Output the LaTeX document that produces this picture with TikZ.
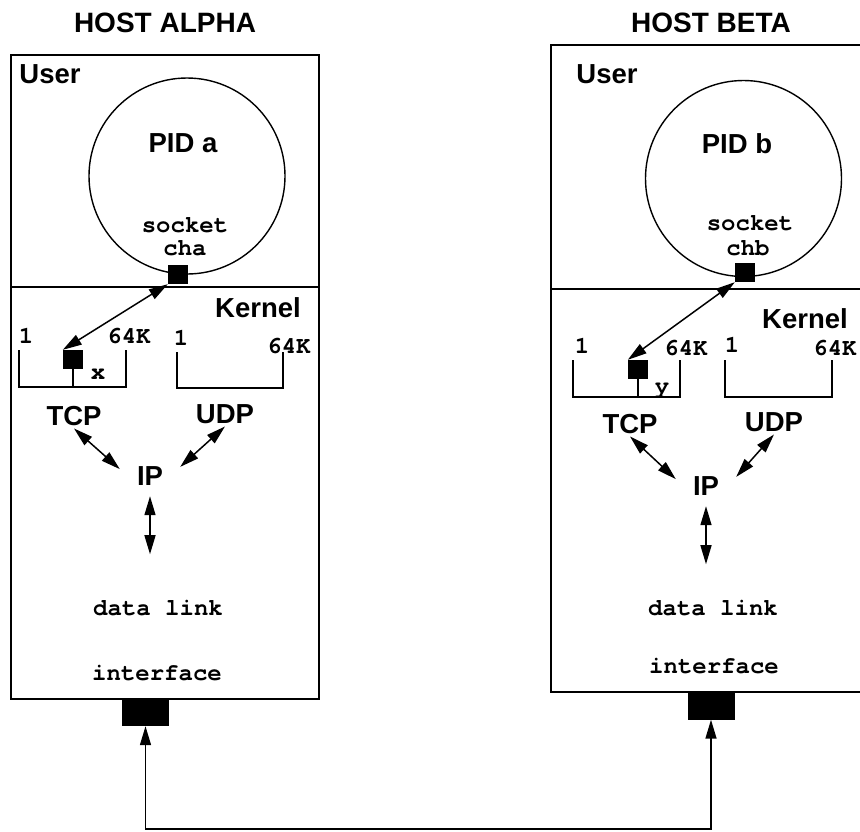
\documentclass[tikz,border=0pt]{standalone}
\usepackage{fontspec}
\setmainfont{Liberation Sans}
\setmonofont{TeX Gyre Cursor}
\usetikzlibrary{arrows.meta,calc,positioning}

\begin{document}
\begin{tikzpicture}[x=1pt,y=-1pt,
  big/.style={font=\bfseries\fontsize{27.5}{30}\selectfont, inner sep=0pt, anchor=base},
  title/.style={big, font=\bfseries\fontsize{28}{30}\selectfont},
  mono/.style={font=\ttfamily\bfseries\fontsize{24}{26}\selectfont, inner sep=0pt, anchor=base},
  port/.style={fill, inner sep=0pt, minimum width=20pt, minimum height=19pt},
  nic/.style={fill, inner sep=0pt, minimum width=47pt, minimum height=27pt},
  proc/.style={draw, circle, line width=1.4pt, minimum size=196pt, inner sep=0pt},
  wall/.style={line width=1.7pt},
  bar/.style={line width=1.6pt},
  link/.style={line width=1.5pt, {Triangle[length=19pt,width=11pt]}-{Triangle[length=19pt,width=11pt]}},
  ipbox/.style={big, inner xsep=17pt, inner ysep=11pt}]
\useasboundingbox (0,0) rectangle (860,831);

% host alpha
\node[title] (hostA) at (165,32) {HOST ALPHA};
\draw[wall] (11,55) rectangle (319,699);
\draw[wall] (11,287) -- (319,287);
\node[big] (userA) at (50,83) {User};
\node[proc] (pidA) at (187,176) {};
\node[big] (pidAtxt) at (183,152) {PID a};
\node[mono] (sockAtxt) at (185,232) {socket};
\node[mono] (chA) at (185,255) {cha};
\node[port] (sockA) at (178,274.5) {};
\node[big] (kernA) at (258,317) {Kernel};

\coordinate (tcpTrayA) at (19,387);
\draw[bar] (19,350) -- (tcpTrayA) -- (126,387) -- (126,350);
\draw[bar] (177,352) -- (177,388) -- (283,388) -- (283,352);
\node[port] (portA) at (73,359.5) {};
\draw[bar] (portA.south) -- (portA.south |- tcpTrayA);
\node[mono] (oneA) at (26,343) {1};
\node[mono] (maxA) at (129,343) {64K};
\node[mono] (oneUA) at (181,345) {1};
\node[mono] (maxUA) at (289,353) {64K};
\node[mono] (xA) at (98,379) {x};

\node[big, inner sep=3pt] (tcpA) at (74,425) {TCP};
\node[big, inner sep=3pt] (udpA) at (225,423) {UDP};
\node[ipbox] (ipA) at (150,485) {IP};
\coordinate (dlA) at ($(ipA.south)+(0,58)$);
\node[mono] (linkA) at (158,615) {data link};
\node[mono] (ifA) at (157,680) {interface};
\node[nic] (nicA) at (145.5,712.5) {};

\draw[link] (portA.north west) -- (sockA.south west);
\draw[link] (tcpA.south) -- (ipA.168);
\draw[link] (udpA.south) -- (ipA.16);
\draw[link] (ipA.south) -- (dlA);

% host beta
\node[title] (hostB) at (711,32) {HOST BETA};
\draw[wall] (551,45) rectangle (862,692);
\draw[wall] (551,289) -- (862,289);
\node[big] (userB) at (607,83) {User};
\node[proc] (pidB) at (743.5,178.5) {};
\node[big] (pidBtxt) at (737,153) {PID b};
\node[mono] (sockBtxt) at (750,230) {socket};
\node[mono] (chB) at (748,255) {chb};
\node[port] (sockB) at (745,272.5) {};
\node[big] (kernB) at (805,328) {Kernel};

\coordinate (tcpTrayB) at (573,397);
\draw[bar] (573,360) -- (tcpTrayB) -- (680,397) -- (680,360);
\draw[bar] (725,360) -- (725,397) -- (832,397) -- (832,360);
\node[port] (portB) at (638,369.5) {};
\draw[bar] (portB.south) -- (portB.south |- tcpTrayB);
\node[mono] (oneB) at (582,353) {1};
\node[mono] (maxB) at (686,355) {64K};
\node[mono] (oneUB) at (732,352) {1};
\node[mono] (maxUB) at (835,355) {64K};
\node[mono] (yB) at (662,393) {y};

\node[big, inner sep=3pt] (tcpB) at (630,433) {TCP};
\node[big, inner sep=3pt] (udpB) at (774,431) {UDP};
\node[ipbox] (ipB) at (706,495) {IP};
\coordinate (dlB) at ($(ipB.south)+(0,58)$);
\node[mono] (linkB) at (713,615) {data link};
\node[mono] (ifB) at (714,673) {interface};
\node[nic] (nicB) at (711,706) {};

\draw[link] (portB.north west) -- (sockB.south west);
\draw[link] (tcpB.south) -- (ipB.168);
\draw[link] (udpB.south) -- (ipB.16);
\draw[link] (ipB.south) -- (dlB);

% wire between the interfaces
\coordinate (wire) at (430,829);
\draw[link] (nicA.south) |- (wire) -| (nicB.south);
\end{tikzpicture}
\end{document}
